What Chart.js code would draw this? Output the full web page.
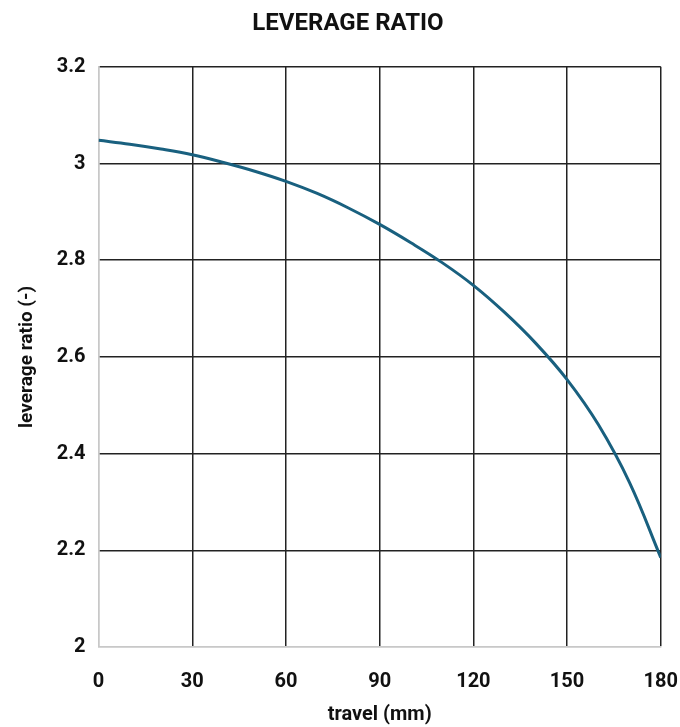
<!DOCTYPE html>
<html>
<head>
<meta charset="utf-8">
<script src="https://cdn.jsdelivr.net/npm/chart.js@4.4.1/dist/chart.umd.min.js"></script>
<style>
    html, body { margin: 0; padding: 0; background: #fff; }
    #wrap { width: 680px; height: 727px; }
</style>
</head>
<body>
<div id="wrap"><canvas id="leverageChart"></canvas></div>
<script>
// travel (mm) and leverage ratio
const travel = [0, 10, 20, 30, 40, 50, 60, 70, 80, 90, 100, 110, 120, 130, 140, 150, 160, 170, 180];
const leverage = [3.048, 3.040, 3.030, 3.018, 3.002, 2.984, 2.963, 2.938, 2.908, 2.874, 2.836, 2.795, 2.748, 2.692, 2.628, 2.553, 2.460, 2.340, 2.185];
const xTicks = [0, 30, 60, 90, 120, 150, 180];
const yTicks = [2, 2.2, 2.4, 2.6, 2.8, 3, 3.2];

const FONT = "'Roboto', 'Liberation Sans', sans-serif";

document.addEventListener('DOMContentLoaded', function() {
    Chart.defaults.font.family = FONT;
    Chart.defaults.color = '#111';

    const ctx = document.getElementById('leverageChart');
    new Chart(ctx, {
        type: 'line',
        data: {
            datasets: [{
                label: 'leverage ratio',
                data: travel.map((t, i) => ({ x: t, y: leverage[i] })),
                borderColor: '#19607f',
                borderWidth: 3,
                pointRadius: 0,
                tension: 0.4,
                fill: false
            }]
        },
        options: {
            responsive: true,
            maintainAspectRatio: false,
            animation: false,
            layout: { padding: { left: 16, right: 0, top: 6, bottom: 0 } },
            plugins: {
                legend: { display: false },
                tooltip: { enabled: false },
                title: {
                    display: true,
                    text: 'LEVERAGE RATIO',
                    font: { size: 24, weight: 'bold' },
                    color: '#111',
                    padding: { top: 4, bottom: 28 }
                }
            },
            scales: {
                x: {
                    type: 'linear',
                    min: 0,
                    max: 180,
                    afterBuildTicks: axis => { axis.ticks = xTicks.map(v => ({ value: v })); },
                    grid: {
                        color: c => c.tick && c.tick.value === 0 ? '#c8c8c8' : '#222',
                        lineWidth: 1.5,
                        // invisible tick marks push the labels down without widening the right overhang
                        drawTicks: true,
                        tickLength: 21,
                        tickColor: 'rgba(0,0,0,0)'
                    },
                    border: { color: '#c8c8c8', width: 1.5 },
                    ticks: {
                        font: { size: 20, weight: 'bold' },
                        padding: 2,
                        maxRotation: 0
                    },
                    title: {
                        display: true,
                        text: 'travel (mm)',
                        font: { size: 20, weight: 'bold' },
                        padding: { top: 7, bottom: 0 }
                    }
                },
                y: {
                    min: 2,
                    max: 3.2,
                    afterBuildTicks: axis => { axis.ticks = yTicks.map(v => ({ value: v })); },
                    grid: {
                        color: c => c.tick && c.tick.value === 2 ? '#c8c8c8' : '#222',
                        lineWidth: 1.5,
                        drawTicks: false
                    },
                    border: { color: '#c8c8c8', width: 1.5 },
                    ticks: {
                        font: { size: 20, weight: 'bold' },
                        padding: 13,
                        callback: v => String(Number(v.toFixed(2)))
                    },
                    title: {
                        display: true,
                        text: 'leverage ratio (-)',
                        font: { size: 19, weight: 'bold' },
                        padding: { top: 0, bottom: 5 }
                    }
                }
            }
        }
    });
});
</script>
</body>
</html>
